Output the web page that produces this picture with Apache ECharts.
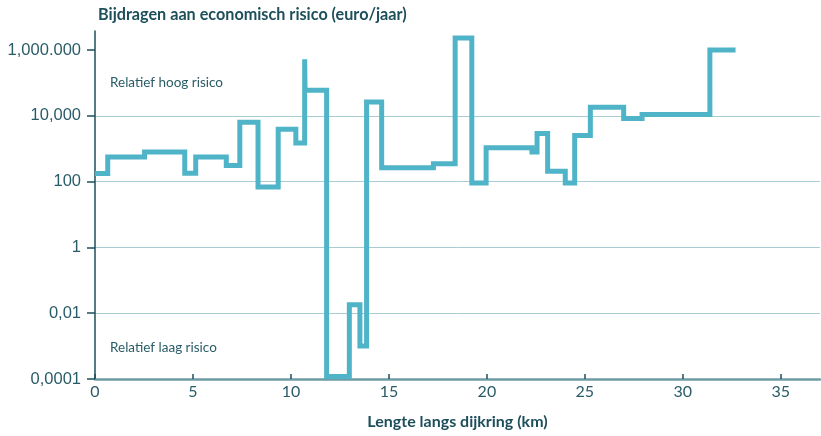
<!DOCTYPE html>
<html>
<head>
<meta charset="utf-8">
<script src="https://cdn.jsdelivr.net/npm/echarts@6/dist/echarts.min.js"></script>
<style>html,body{margin:0;padding:0;background:#fff}#c{width:821px;height:436px}</style>
</head>
<body>
<div id="c"></div>
<script>
// Step breakpoints (km) and the value holding from that km to the next breakpoint
const kmStart = [0, 0.65, 2.53, 4.58, 5.14, 6.7, 7.39, 8.32, 9.35, 10.25, 10.7, 10.72, 11.82, 12.98, 13.52, 13.86, 14.63, 17.27, 18.38, 19.23, 19.96, 22.3, 22.56, 23.1, 24.0, 24.48, 25.28, 26.98, 27.92, 31.38, 32.69];
const risk = [175, 560, 790, 180, 560, 310, 6300, 68, 3900, 1500, 520000, 60000, 0.00012, 0.018, 0.001, 26000, 265, 350, 2300000, 90, 1070, 790, 2900, 205, 90, 2500, 18000, 8300, 11000, 1000000, 1000000];
const yTickValues = [0.0001, 0.01, 1, 100, 10000, 1000000];
const yTickLabels = ['0,0001', '0,01', '1', '100', '10,000', '1,000.000'];
const xTickValues = [0, 5, 10, 15, 20, 25, 30, 35];
const titleText = 'Bijdragen aan economisch risico (euro/jaar)';
const xName = 'Lengte langs dijkring (km)';
const noteHigh = 'Relatief hoog risico';
const noteLow = 'Relatief laag risico';

const dark = '#1d4f5b';
const textCol = '#2a5c68';
const chart = echarts.init(document.getElementById('c'), null, {renderer: 'canvas'});
chart.setOption({
  animation: false,
  backgroundColor: '#fff',
  grid: {left: 95, right: 1, top: 31, bottom: 57},
  title: {
    text: titleText, left: 93, top: 2,
    textStyle: {fontFamily: 'Lato', fontWeight: 'bold', fontSize: 16.2, color: dark}
  },
  graphic: [
    {type: 'text', left: 110, top: 76, style: {text: noteHigh, fontFamily: 'Lato', fontSize: 13.5, fill: textCol}},
    {type: 'text', left: 110, top: 341, style: {text: noteLow, fontFamily: 'Lato', fontSize: 13.5, fill: textCol}}
  ],
  xAxis: {
    type: 'value', min: 0, max: 37, interval: 5,
    name: xName, nameLocation: 'middle', nameGap: 35,
    nameTextStyle: {fontFamily: 'Lato', fontWeight: 'bold', fontSize: 16, color: dark},
    axisLine: {lineStyle: {color: '#6d9ca4', width: 2.5}},
    axisTick: {inside: true, length: 5, lineStyle: {color: dark, width: 1.5}, customValues: xTickValues},
    axisLabel: {fontFamily: 'Lato', fontSize: 16, color: textCol, margin: 5, customValues: xTickValues},
    splitLine: {show: false}
  },
  yAxis: {
    type: 'log', logBase: 10, min: 0.0001, max: 3770000,
    axisLine: {show: true, lineStyle: {color: dark, width: 1.5}},
    axisTick: {show: true, length: 8, lineStyle: {color: dark, width: 1.5}, customValues: yTickValues},
    axisLabel: {
      fontFamily: 'Liberation Sans', fontSize: 16.5, color: textCol, margin: 14,
      customValues: yTickValues,
      formatter: function (v) {
        for (let i = 0; i < yTickValues.length; i++) {
          if (Math.abs(Math.log10(v) - Math.log10(yTickValues[i])) < 1e-6) return yTickLabels[i];
        }
        return '';
      }
    },
    splitLine: {show: true, showMaxLine: false, showMinLine: false, lineStyle: {color: '#a9ccd2', width: 1}}
  },
  series: [{
    type: 'line',
    step: 'end',
    showSymbol: false,
    symbol: 'none',
    data: kmStart.map((x, i) => [x, risk[i]]),
    lineStyle: {color: '#4fb4c8', width: 5, cap: 'butt', join: 'miter'}
  }]
});
</script>
</body>
</html>
